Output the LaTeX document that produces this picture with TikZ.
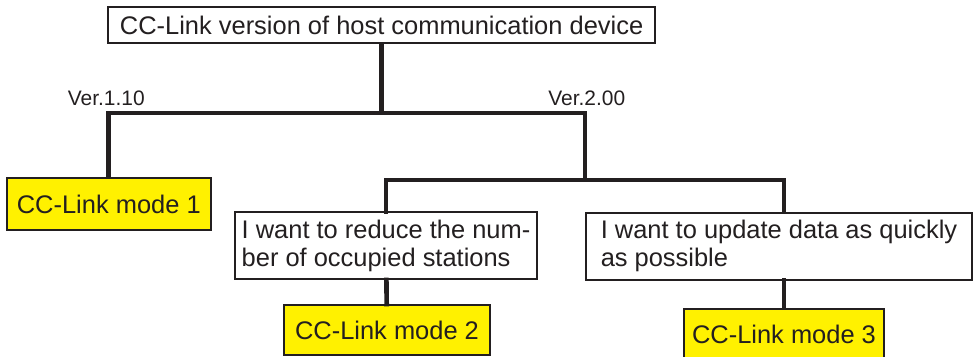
\documentclass[tikz,border=0pt]{standalone}
\usepackage{fontspec}
\setmainfont{Liberation Sans}
\usepackage{tikz}
\usetikzlibrary{positioning,calc}
\definecolor{inkdark}{HTML}{231F20}
\definecolor{modeyel}{HTML}{FFF100}
\tikzset{
  cl box/.style={draw=inkdark, line width=1.2pt, fill=white, text=inkdark, inner sep=0pt,
                 font=\fontsize{18.1}{19.9}\selectfont, align=left},
  cl mode/.style={cl box, fill=modeyel},
  cl tree/.style={draw=inkdark, line width=3.3pt, line cap=rect},
  cl ver/.style={font=\fontsize{14.9}{16}\selectfont, text=inkdark, inner sep=0pt},
}
\begin{document}
\begin{tikzpicture}[x=1cm, y=1cm]
  \useasboundingbox (0,0) rectangle (24.35,-8.925);
  % question and the two versions
  \node[cl box, minimum width=13.675cm, minimum height=0.9cm] (host) at (9.54,-0.625) {CC-Link version of host communication device};
  \coordinate (v1) at (14.625,-2.825);
  \coordinate (v2) at (14.625,-4.5);
  \node[cl ver, anchor=base east] (lv1) at (3.625,-2.65) {Ver.1.10};
  \node[cl ver, anchor=base west] (lv2) at (13.7,-2.65) {Ver.2.00};
  % row 1: mode for old version and the two wishes
  \node[cl mode, minimum width=5.1cm, minimum height=1.3cm] (m1) at (2.72,-5.1) {CC-Link mode 1};
  \node[cl box, minimum width=7.55cm, minimum height=1.675cm] (red) at (9.65,-6.14) {I want to reduce the num-\\ber of occupied stations};
  \node[cl box, minimum width=9.65cm, minimum height=1.675cm] (upd) at (19.475,-6.16) {I want to update data as quickly\\as possible};
  % row 2: resulting modes
  \node[cl mode, minimum width=5.15cm, minimum height=1.25cm] (m2) at (9.675,-8.25) {CC-Link mode 2};
  \node[cl mode, minimum width=5.0cm, minimum height=1.25cm] (m3) at (19.6,-8.35) {CC-Link mode 3};
  % tree lines
  \draw[cl tree] (host.south) -- (host.south |- v1);
  \draw[cl tree] (m1.north) |- (v1) -- (v2);
  \draw[cl tree] (red.north) |- (v2) -| (upd.north -| m3.north);
  \draw[cl tree] (red) -- (m2);
  \draw[cl tree] (upd.south -| m3.north) -- (m3.north);
\end{tikzpicture}
\end{document}
